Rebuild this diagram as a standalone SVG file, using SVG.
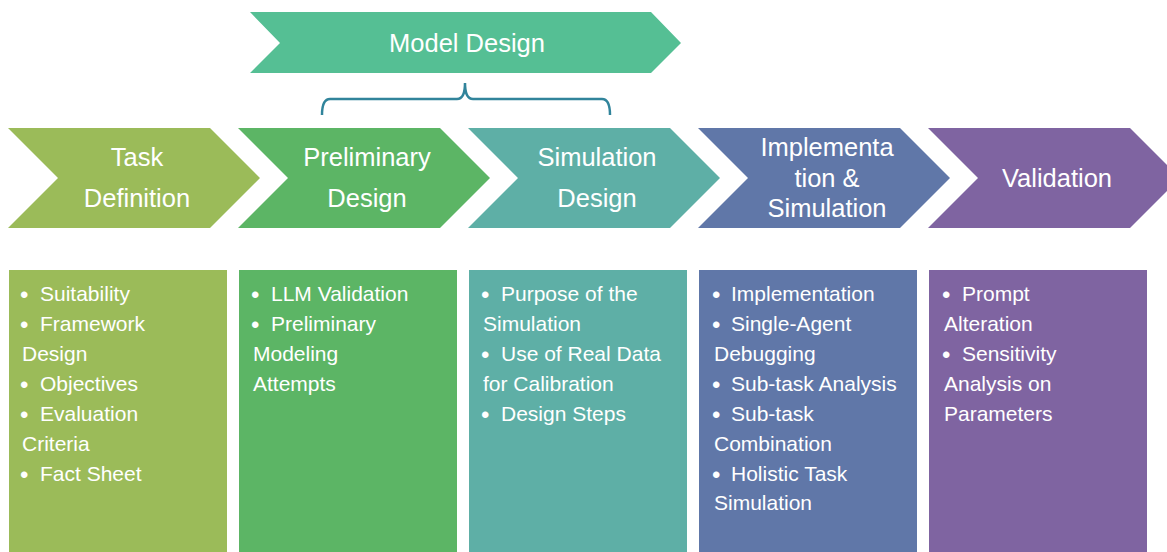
<svg xmlns="http://www.w3.org/2000/svg" width="1167" height="552" viewBox="0 0 1167 552">
<style>
.hd{font-family:"Liberation Sans",Arial,sans-serif;font-size:25.5px;fill:#fff;text-anchor:middle}
.bt{font-family:"Liberation Sans",Arial,sans-serif;font-size:21px;fill:#fff}
.bu{font-size:24px}
</style>
<defs>
<path id="chev" d="M0,128 L202,128 L252,178 L202,228 L0,228 L50,178 Z"/>
</defs>
<rect width="1167" height="552" fill="#fff"/>
<g id="model-design">
<path d="M250,12 L651,12 L681,43 L651,73 L250,73 L280,43 Z" fill="#55BF94"/>
<text class="hd" x="467" y="52">Model Design</text>
</g>
<g id="connectors">
<path d="M322,115 Q322,99 330,99 L457,99 Q465,99 465,83 Q465,99 473,99 L602,99 Q610,99 610,115" fill="none" stroke="#31849B" stroke-width="2.5"/>
</g>
<g id="task-definition">
<use href="#chev" x="8" fill="#9BBB59"/>
<text class="hd" x="137" y="166">Task</text>
<text class="hd" x="137" y="207">Definition</text>
</g>
<g id="preliminary-design">
<use href="#chev" x="238" fill="#5CB565"/>
<text class="hd" x="367" y="166">Preliminary</text>
<text class="hd" x="367" y="207">Design</text>
</g>
<g id="simulation-design">
<use href="#chev" x="468" fill="#5EAFA6"/>
<text class="hd" x="597" y="166">Simulation</text>
<text class="hd" x="597" y="207">Design</text>
</g>
<g id="implementation">
<use href="#chev" x="698" fill="#6077A8"/>
<text class="hd" x="827" y="156">Implementa</text>
<text class="hd" x="827" y="187">tion &amp;</text>
<text class="hd" x="827" y="217">Simulation</text>
</g>
<g id="validation">
<use href="#chev" x="928" fill="#7F64A1"/>
<text class="hd" x="1057" y="187">Validation</text>
</g>
<g id="box-task">
<rect x="9" y="270" width="218" height="282" fill="#9BBB59"/>
<text class="bt" y="301"><tspan class="bu" x="20" dy="2">•</tspan><tspan x="40" dy="-2">Suitability</tspan></text>
<text class="bt" y="331"><tspan class="bu" x="20" dy="2">•</tspan><tspan x="40" dy="-2">Framework</tspan></text>
<text class="bt" x="22" y="361">Design</text>
<text class="bt" y="391"><tspan class="bu" x="20" dy="2">•</tspan><tspan x="40" dy="-2">Objectives</tspan></text>
<text class="bt" y="421"><tspan class="bu" x="20" dy="2">•</tspan><tspan x="40" dy="-2">Evaluation</tspan></text>
<text class="bt" x="22" y="451">Criteria</text>
<text class="bt" y="481"><tspan class="bu" x="20" dy="2">•</tspan><tspan x="40" dy="-2">Fact Sheet</tspan></text>
</g>
<g id="box-preliminary">
<rect x="239" y="270" width="218" height="282" fill="#5CB565"/>
<text class="bt" y="301"><tspan class="bu" x="251" dy="2">•</tspan><tspan x="271" dy="-2">LLM Validation</tspan></text>
<text class="bt" y="331"><tspan class="bu" x="251" dy="2">•</tspan><tspan x="271" dy="-2">Preliminary</tspan></text>
<text class="bt" x="253" y="361">Modeling</text>
<text class="bt" x="253" y="391">Attempts</text>
</g>
<g id="box-simulation">
<rect x="469" y="270" width="218" height="282" fill="#5EAFA6"/>
<text class="bt" y="301"><tspan class="bu" x="481" dy="2">•</tspan><tspan x="501" dy="-2">Purpose of the</tspan></text>
<text class="bt" x="483" y="331">Simulation</text>
<text class="bt" y="361"><tspan class="bu" x="481" dy="2">•</tspan><tspan x="501" dy="-2">Use of Real Data</tspan></text>
<text class="bt" x="483" y="391">for Calibration</text>
<text class="bt" y="421"><tspan class="bu" x="481" dy="2">•</tspan><tspan x="501" dy="-2">Design Steps</tspan></text>
</g>
<g id="box-implementation">
<rect x="699" y="270" width="218" height="282" fill="#6077A8"/>
<text class="bt" y="301"><tspan class="bu" x="712" dy="2">•</tspan><tspan x="731" dy="-2">Implementation</tspan></text>
<text class="bt" y="331"><tspan class="bu" x="712" dy="2">•</tspan><tspan x="731" dy="-2">Single-Agent</tspan></text>
<text class="bt" x="714" y="361">Debugging</text>
<text class="bt" y="391"><tspan class="bu" x="712" dy="2">•</tspan><tspan x="731" dy="-2">Sub-task Analysis</tspan></text>
<text class="bt" y="421"><tspan class="bu" x="712" dy="2">•</tspan><tspan x="731" dy="-2">Sub-task</tspan></text>
<text class="bt" x="714" y="451">Combination</text>
<text class="bt" y="481"><tspan class="bu" x="712" dy="2">•</tspan><tspan x="731" dy="-2">Holistic Task</tspan></text>
<text class="bt" x="714" y="510">Simulation</text>
</g>
<g id="box-validation">
<rect x="929" y="270" width="218" height="282" fill="#7F64A1"/>
<text class="bt" y="301"><tspan class="bu" x="942" dy="2">•</tspan><tspan x="962" dy="-2">Prompt</tspan></text>
<text class="bt" x="944" y="331">Alteration</text>
<text class="bt" y="361"><tspan class="bu" x="942" dy="2">•</tspan><tspan x="962" dy="-2">Sensitivity</tspan></text>
<text class="bt" x="944" y="391">Analysis on</text>
<text class="bt" x="944" y="421">Parameters</text>
</g>
</svg>
